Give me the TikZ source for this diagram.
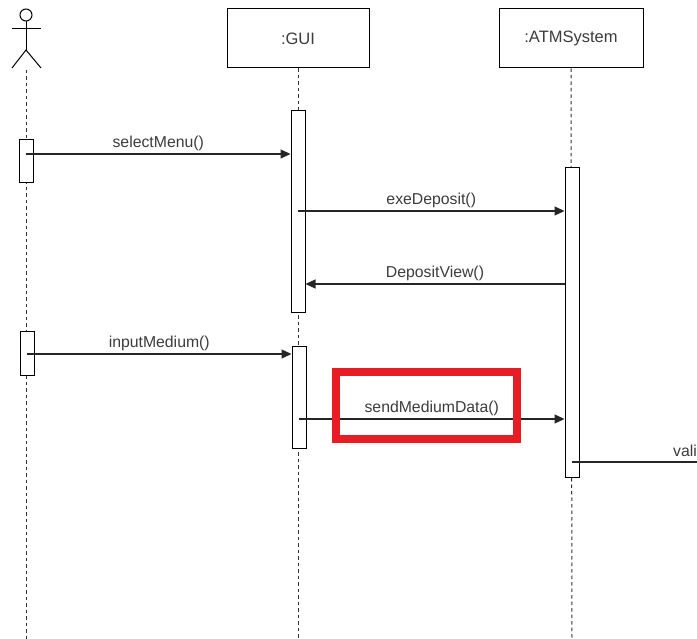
\documentclass[tikz,border=0pt]{standalone}
\usepackage{fontspec}
\setmainfont{Liberation Sans}
\usetikzlibrary{arrows.meta}
\definecolor{txt}{RGB}{60,60,60}
\definecolor{hl}{RGB}{232,28,36}
\tikzset{
  objbox/.style={draw=black, line width=1pt, fill=white, minimum width=142pt, minimum height=59pt, inner sep=0pt, text=txt, font=\fontsize{16.5}{19}\selectfont},
  actbox/.style={draw=black, line width=1pt, fill=white, minimum width=14pt, inner sep=0pt},
  lifeline/.style={draw=black!80, line width=1pt, dash pattern=on 3.5pt off 3pt},
  msg/.style={draw=black!85, line width=1.2pt, -{Triangle[length=10pt,width=9pt]}},
  msglabel/.style={text=txt, font=\fontsize{15.8}{18}\selectfont, inner sep=0pt},
  stickman/.style={draw=black, line width=1pt}
}
\begin{document}
\begin{tikzpicture}[x=1pt,y=-1pt]
\useasboundingbox (0,0) rectangle (697,639);
% actor
\node[stickman, circle, minimum size=12pt, inner sep=0pt] (head) at (26,15) {};
\draw[stickman] (head.south) -- (26,50) coordinate (hip);
\draw[stickman] (12,29) -- (41,29);
\draw[stickman] (12,68) -- (hip) -- (41,68);
\coordinate (actorbottom) at (26,70);
% objects
\node[objbox] (gui) at (298,38.5) {:GUI};
\node[objbox, minimum width=144pt] (atm) at (571,38.5) {:ATMSystem};
% lifelines
\draw[lifeline] (actorbottom) -- (26,639);
\draw[lifeline] (gui.south) -- (298,639);
\draw[lifeline] (atm.south) -- (572,639);
% activations
\node[actbox, minimum height=43pt] (a1) at (26,161.5) {};
\node[actbox, minimum height=44pt] (a2) at (27,354) {};
\node[actbox, minimum height=202pt] (g1) at (298,212) {};
\node[actbox, minimum height=101pt] (g2) at (299,397.5) {};
\node[actbox, minimum height=309pt] (s1) at (572,322.5) {};
% messages
\draw[msg] (a1.center |- 0,154) -- node[msglabel, above=2.5pt] {selectMenu()} (g1.west |- 0,154);
\draw[msg] (g1.center |- 0,211) -- node[msglabel, above=2.5pt] {exeDeposit()} (s1.west |- 0,211);
\draw[msg] (s1.west |- 0,284) -- node[msglabel, above=2.5pt] {DepositView()} (g1.east |- 0,284);
\draw[msg] (a2.center |- 0,354) -- node[msglabel, above=2.5pt] {inputMedium()} (g2.west |- 0,354);
\draw[msg] (g2.center |- 0,419) -- node[msglabel, above=2.5pt] {sendMediumData()} (s1.west |- 0,419);
\coordinate (offright) at (697,462);
\draw[draw=black!85, line width=1.2pt] (s1.center |- offright) -- (offright);
\node[msglabel, anchor=base west] (vali) at (673,456) {vali};
% highlight
\node[draw=hl, line width=8pt, minimum width=181pt, minimum height=66pt, inner sep=0pt] (hlbox) at (426.5,405.5) {};
\end{tikzpicture}
\end{document}
